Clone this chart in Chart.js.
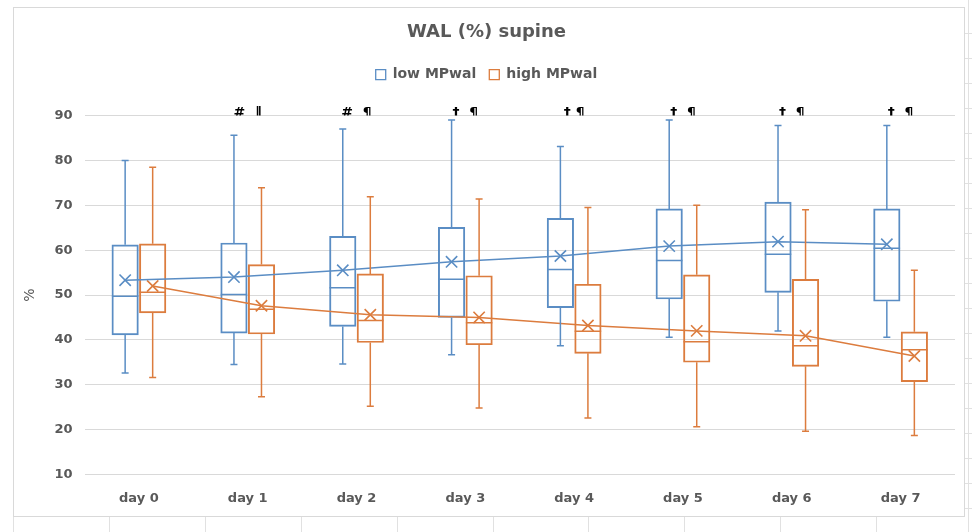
<!DOCTYPE html>
<html>
<head>
<meta charset="utf-8">
<script src="https://cdn.jsdelivr.net/npm/chart.js@4.4.1/dist/chart.umd.min.js"></script>
<style>
html,body{margin:0;padding:0;background:#fff;}
canvas{display:block;}
</style>
</head>
<body>
<canvas id="c" width="972" height="532"></canvas>
<script>
// ---- data ----
const categories = ['day 0','day 1','day 2','day 3','day 4','day 5','day 6','day 7'];
const annotations = ['', '#  \u2016', '#  \u00B6', '\u2020  \u00B6', '\u2020 \u00B6', '\u2020  \u00B6', '\u2020  \u00B6', '\u2020  \u00B6'];
const yTicks = [10, 20, 30, 40, 50, 60, 70, 80, 90];

const lowMin    = [32.6, 34.5, 34.6, 36.7, 38.7, 40.6, 42.0, 40.6];
const lowQ1     = [41.1, 41.5, 43.0, 45.0, 47.2, 49.1, 50.6, 48.6];
const lowMedian = [49.7, 50.1, 51.6, 53.5, 55.7, 57.7, 59.1, 60.4];
const lowQ3     = [61.2, 61.6, 63.1, 65.1, 67.1, 69.2, 70.7, 69.2];
const lowMax    = [80.0, 85.6, 87.0, 89.0, 83.1, 89.0, 87.8, 87.8];
const lowMean   = [53.3, 54.0, 55.5, 57.4, 58.7, 60.9, 61.9, 61.3];

const highMin    = [31.6, 27.3, 25.2, 24.8, 22.6, 20.6, 19.6, 18.7];
const highQ1     = [46.0, 41.3, 39.4, 38.9, 37.0, 35.0, 34.1, 30.7];
const highMedian = [50.6, 46.8, 44.3, 43.8, 41.9, 39.6, 38.7, 37.8];
const highQ3     = [61.4, 56.8, 54.7, 54.3, 52.4, 54.5, 53.5, 41.8];
const highMax    = [78.5, 73.9, 71.9, 71.4, 69.5, 70.0, 69.0, 55.5];
const highMean   = [52.0, 47.6, 45.6, 45.0, 43.2, 42.0, 40.9, 36.4];

// ---- styles ----
const BLUE = '#5a8dc4';
const ORANGE = '#dc7c3e';
const GRAY = '#595959';
const GROUP_OFFSET = 0.1265;   // fraction of a category between a box and the category centre
const BOX_WIDTH = 26.5;
const FONT = "'DejaVu Sans', sans-serif";

const groups = [
  {label:'low MPwal', color:BLUE, min:lowMin, q1:lowQ1, med:lowMedian, q3:lowQ3, max:lowMax, mean:lowMean, side:-1},
  {label:'high MPwal', color:ORANGE, min:highMin, q1:highQ1, med:highMedian, q3:highQ3, max:highMax, mean:highMean, side:1}
];

const barSets = groups.map(g => ({
  type:'bar',
  label:g.label,
  data:g.q1.map((v,i)=>({x:i + g.side*GROUP_OFFSET, y:[v, g.q3[i]]})),
  backgroundColor:'rgba(255,255,255,0)',
  borderColor:g.color,
  borderWidth:1.3,
  borderSkipped:false,
  grouped:false,
  categoryPercentage:1,
  barPercentage:1,
  maxBarThickness:BOX_WIDTH,
  xAxisID:'x2',
  order:2
}));

const lineSets = groups.map(g => ({
  type:'line',
  label:g.label + ' mean',
  data:g.mean.map((m,i)=>({x:i + g.side*GROUP_OFFSET, y:m})),
  xAxisID:'x2',
  borderColor:g.color,
  backgroundColor:g.color,
  borderWidth:1.5,
  pointStyle:'crossRot',
  pointRadius:8,
  pointBorderWidth:1.6,
  pointBorderColor:g.color,
  tension:0,
  fill:false,
  order:1
}));

const framePlugin = {
  id:'frame',
  beforeDraw(chart){
    const ctx = chart.ctx;
    ctx.save();
    ctx.fillStyle = '#fff';
    ctx.fillRect(0,0,chart.width,chart.height);
    ctx.strokeStyle = '#e1e1e1';
    ctx.lineWidth = 1;
    ctx.beginPath();
    for (let k = 0; k <= 10; k++) {
      const x = Math.round(13 + k*95.9) + 0.5;
      ctx.moveTo(x, 517); ctx.lineTo(x, chart.height);
    }
    ctx.moveTo(968.5, 0); ctx.lineTo(968.5, chart.height);
    for (let yy = 33; yy < 532; yy += 25) { ctx.moveTo(965, yy+0.5); ctx.lineTo(972, yy+0.5); }
    ctx.stroke();
    ctx.strokeStyle = '#d9d9d9';
    ctx.strokeRect(13.5, 7.5, 951, 509);
    ctx.restore();
  }
};

const boxPlugin = {
  id:'boxExtras',
  afterDatasetsDraw(chart){
    const ctx = chart.ctx;
    const y = chart.scales.y;
    ctx.save();
    groups.forEach((g, di) => {
      const meta = chart.getDatasetMeta(di);
      ctx.strokeStyle = g.color;
      ctx.lineWidth = 1.5;
      meta.data.forEach((bar, i) => {
        const {x, width} = bar.getProps(['x','width'], true);
        const yMax = y.getPixelForValue(g.max[i]);
        const yQ3 = y.getPixelForValue(g.q3[i]);
        const yQ1 = y.getPixelForValue(g.q1[i]);
        const yMin = y.getPixelForValue(g.min[i]);
        const yMed = y.getPixelForValue(g.med[i]);
        const cap = 3.5;
        ctx.beginPath();
        ctx.moveTo(x, yQ3); ctx.lineTo(x, yMax);
        ctx.moveTo(x-cap, yMax); ctx.lineTo(x+cap, yMax);
        ctx.moveTo(x, yQ1); ctx.lineTo(x, yMin);
        ctx.moveTo(x-cap, yMin); ctx.lineTo(x+cap, yMin);
        ctx.moveTo(x-width/2, yMed); ctx.lineTo(x+width/2, yMed);
        ctx.stroke();
      });
    });
    ctx.restore();
  }
};

Chart.defaults.font.family = FONT;
Chart.defaults.color = GRAY;

new Chart(document.getElementById('c'), {
  type:'bar',
  data:{ labels:categories, datasets:[...barSets, ...lineSets] },
  options:{
    responsive:false,
    animation:false,
    layout:{ padding:{ left:18, right:17, top:0, bottom:10 } },
    plugins:{
      title:{ display:true, text:'WAL (%) supine', color:GRAY, font:{size:18, weight:'bold'}, padding:{top:22, bottom:11} },
      legend:{
        display:true,
        labels:{
          filter:(item)=>item.datasetIndex < 2,
          boxWidth:10, boxHeight:10, padding:13,
          color:GRAY, font:{size:14, weight:'bold'}
        }
      },
      tooltip:{ enabled:false }
    },
    scales:{
      x:{
        type:'category',
        position:'bottom',
        labels:categories,
        offset:true,
        grid:{ display:false, drawTicks:false },
        border:{ display:false },
        ticks:{ color:GRAY, font:{size:13, weight:'bold'}, padding:16, maxRotation:0, autoSkip:false }
      },
      xTop:{
        type:'category',
        position:'top',
        labels:annotations,
        offset:true,
        grid:{ display:false, drawTicks:false },
        border:{ display:false },
        ticks:{ color:'#000', font:{size:14, weight:'bold'}, padding:-6, maxRotation:0, autoSkip:false },
        afterFit:(s)=>{ s.height = 24; }
      },
      x2:{
        type:'linear',
        display:false,
        offset:false,
        min:-0.5, max:7.5
      },
      y:{
        type:'linear',
        min:yTicks[0], max:yTicks[yTicks.length-1],
        afterBuildTicks:(s)=>{ s.ticks = yTicks.map(v=>({value:v})); },
        grid:{ color:'#d9d9d9', lineWidth:1, drawTicks:false },
        border:{ display:false },
        ticks:{ color:GRAY, font:{size:13, weight:'bold'}, padding:12 },
        title:{ display:true, text:'%', color:GRAY, font:{size:14} },
        afterFit:(s)=>{ s.width = 66.5; }
      }
    }
  },
  plugins:[framePlugin, boxPlugin]
});
</script>
</body>
</html>
